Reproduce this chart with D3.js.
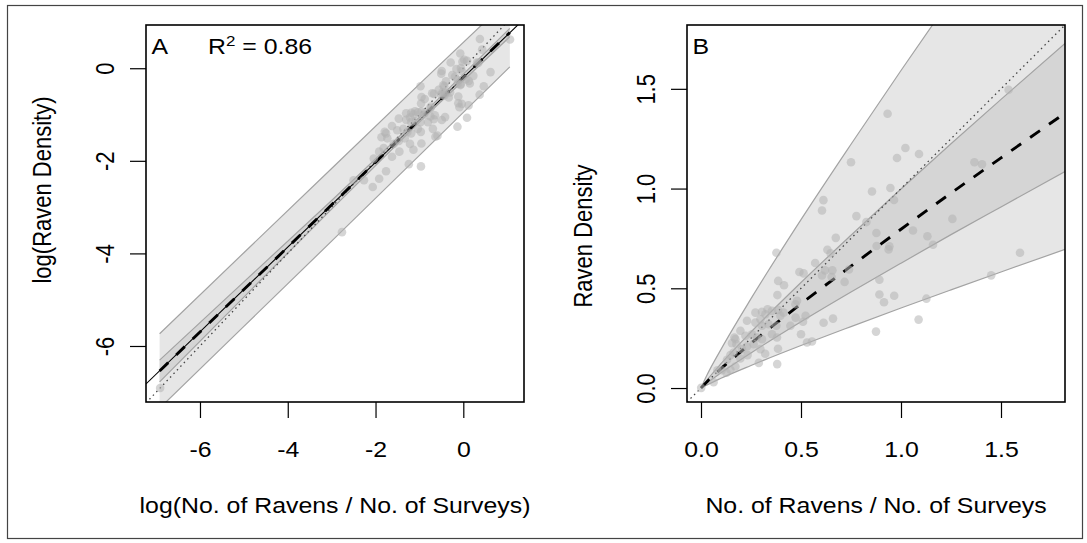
<!DOCTYPE html>
<html><head><meta charset="utf-8">
<script src="https://cdn.jsdelivr.net/npm/d3@7"></script>
<style>
body{margin:0;background:#fff}
text{font-family:"Liberation Sans",Arial,Helvetica,sans-serif;fill:#000}
</style>
</head><body>
<svg id="c" width="1087" height="543"></svg>
<script>
// ---------------- data ----------------
// raw observations: ravens per survey (x) and raven density (y)
const ravensPerSurvey = [
 0.933,1.538,1.022,0.98,1.09,0.75,1.367,1.405,0.855,0.947,
 0.965,0.612,0.605,0.777,0.827,1.257,0.877,1.06,0.674,1.132,
 0.878,0.942,0.938,1.16,0.632,0.648,0.377,1.595,0.571,0.492,
 0.513,0.62,0.657,0.605,0.653,0.74,0.718,0.892,0.386,0.415,
 1.451,0.382,0.892,0.966,0.915,1.127,0.472,0.48,0.385,0.523,
 0.473,0.51,0.613,0.66,1.088,0.875,0.5,0.53,0.555,0.385,
 0.321,0.289,0.381,0.127,0.063,0.001,0.272,0.305,0.322,0.355,
 0.413,0.197,0.305,0.338,0.377,0.447,0.172,0.177,0.222,0.255,
 0.28,0.305,0.355,0.38,0.205,0.23,0.263,0.297,0.147,0.163,
 0.13,0.197,0.233,0.082,0.104,0.147,0.172,1.46,2.9,1.86,
 0.333,0.297,0.272,0.397,0.23,0.155,0.167
];
const ravenDensity = [
 1.375,1.495,1.203,1.153,1.173,1.132,1.132,1.122,0.985,1.003,
 0.943,0.942,0.89,0.862,0.832,0.848,0.777,0.79,0.753,0.761,
 0.712,0.71,0.695,0.718,0.693,0.676,0.678,0.678,0.627,0.582,
 0.575,0.59,0.59,0.564,0.557,0.594,0.532,0.543,0.537,0.515,
 0.565,0.466,0.469,0.463,0.43,0.448,0.42,0.437,0.392,0.362,
 0.353,0.332,0.327,0.348,0.343,0.283,0.27,0.228,0.233,0.197,
 0.172,0.126,0.12,0.077,0.029,0.001,0.378,0.382,0.37,0.387,
 0.378,0.287,0.312,0.32,0.312,0.312,0.245,0.22,0.262,0.27,
 0.253,0.245,0.27,0.253,0.195,0.208,0.22,0.195,0.165,0.178,
 0.142,0.148,0.165,0.089,0.089,0.092,0.108,1.88,1.86,0.92,
 0.395,0.345,0.328,0.362,0.337,0.225,0.253
];

// Panel A (log scale): fitted line, confidence band, prediction band
const bandAx    = [-6.92, -5.0, -3.0, -0.9, 1.06];
const fitA      = [-6.54, -4.78, -2.95, -1.02, 0.77];
const ciLowA    = [-6.775, -4.944, -3.044, -1.07, 0.68];
const ciHighA   = [-6.305, -4.616, -2.856, -0.97, 0.86];
const piLowA    = [-7.345, -5.575, -3.735, -1.79, 0.03];
const piHighA   = [-5.735, -3.985, -2.165, -0.25, 1.51];
const ablineAx  = [-7.23, 1.38];
const ablineAy  = [-6.82, 1.06];

// Panel B (raw scale): back-transformed fit and bands
const bandBx    = [0, 0.03, 0.1, 0.25, 0.5, 0.75, 1.0, 1.25, 1.5, 1.82];
const fitB      = [0, 0.032, 0.097, 0.224, 0.422, 0.611, 0.796, 0.977, 1.154, 1.378];
const ciLowB    = [0, 0.025, 0.076, 0.176, 0.332, 0.481, 0.626, 0.769, 0.908, 1.085];
const ciHighB   = [0, 0.040, 0.122, 0.281, 0.529, 0.766, 0.998, 1.225, 1.447, 1.728];
const piLowB    = [0, 0.016, 0.049, 0.113, 0.213, 0.308, 0.401, 0.492, 0.582, 0.695];
const piHighB   = [0, 0.065, 0.194, 0.448, 0.844, 1.222, 1.592, 1.954, 2.308, 2.756];

// axes
const xTicksA = [-6, -4, -2, 0];
const yTicksA = [-6, -4, -2, 0];
const xTicksB = [0.0, 0.5, 1.0, 1.5];
const yTicksB = [0.0, 0.5, 1.0, 1.5];
const xLimA = [-7.23, 1.383];
const yLimA = [-7.21, 0.934];
const xLimB = [-0.07, 1.82];
const yLimB = [-0.07, 1.82];

const titleXA = "log(No. of Ravens / No. of Surveys)";
const titleYA = "log(Raven Density)";
const titleXB = "No. of Ravens / No. of Surveys";
const titleYB = "Raven Density";
const r2Label = "0.86";

// ---------------- drawing ----------------
const svg = d3.select("#c");
const SX = 1.13, FS = 22;
const pA = {l:146, r:524, t:25, b:402};
const pB = {l:687, r:1065, t:25, b:402};

// outer frame
svg.append("rect").attr("x",7.5).attr("y",5.5).attr("width",1075).attr("height",533)
  .attr("fill","none").attr("stroke","#444").attr("stroke-width",1.2);

const defs = svg.append("defs");
function clip(id,p){
  defs.append("clipPath").attr("id",id).append("rect")
    .attr("x",p.l).attr("y",p.t).attr("width",p.r-p.l).attr("height",p.b-p.t);
}
clip("clipA",pA); clip("clipB",pB);

const OUTER="#e6e6e6", INNER="#d5d5d5", EDGE="#a3a3a3";

function panel(p, clipId, x, y, o){
  const g = svg.append("g").attr("clip-path",`url(#${clipId})`);
  const curve = o.curve;
  const idx = d3.range(o.bx.length);
  const area = (lo,hi)=>d3.area().curve(curve).x(i=>x(o.bx[i])).y0(i=>y(lo[i])).y1(i=>y(hi[i]))(idx);
  const line = (arr)=>d3.line().curve(curve).x(i=>x(o.bx[i])).y(i=>y(arr[i]))(idx);
  g.append("path").attr("d",area(o.piLow,o.piHigh)).attr("fill",OUTER);
  g.append("path").attr("d",area(o.ciLow,o.ciHigh)).attr("fill",INNER);
  [o.piLow,o.piHigh,o.ciLow,o.ciHigh].forEach(a=>{
    g.append("path").attr("d",line(a)).attr("fill","none").attr("stroke",EDGE).attr("stroke-width",1.2);
  });
  // 1:1 dotted line
  g.append("line").attr("x1",x(x.domain()[0])).attr("y1",y(x.domain()[0]))
    .attr("x2",x(x.domain()[1])).attr("y2",y(x.domain()[1]))
    .attr("stroke","#444").attr("stroke-width",1.3).attr("stroke-dasharray","1.5,3.5");
  if(o.abX){
    g.append("line").attr("x1",x(o.abX[0])).attr("y1",y(o.abY[0]))
      .attr("x2",x(o.abX[1])).attr("y2",y(o.abY[1]))
      .attr("stroke","#000").attr("stroke-width",1.1);
  }
  g.append("path").attr("d",line(o.fit)).attr("fill","none").attr("stroke","#000")
    .attr("stroke-width",2.9).attr("stroke-dasharray","12,11");
  // points
  g.selectAll("circle.pt").data(d3.range(ravensPerSurvey.length)).join("circle")
    .attr("class","pt")
    .attr("cx",i=>x(o.tx(ravensPerSurvey[i])))
    .attr("cy",i=>y(o.tx(ravenDensity[i])))
    .attr("r",4.3).attr("fill","rgb(178,178,178)").attr("fill-opacity",0.55);

  // axes
  const ax = svg.append("g").attr("transform",`translate(0,${p.b})`)
    .call(d3.axisBottom(x).tickValues(o.xt).tickSize(16).tickFormat(o.fmt));
  const ay = svg.append("g").attr("transform",`translate(${p.l},0)`)
    .call(d3.axisLeft(y).tickValues(o.yt).tickSize(16).tickFormat(o.fmt));
  [ax,ay].forEach(a=>{
    a.select(".domain").remove();
    a.selectAll(".tick line").attr("stroke","#000").attr("stroke-width",1.2);
    a.selectAll(".tick text").attr("font-size",FS).attr("x",null).attr("y",null).attr("dy",null)
      .attr("fill","#000").style("font-family",'"Liberation Sans",Arial,sans-serif');
  });
  ax.selectAll(".tick text").attr("text-anchor","middle")
    .attr("transform",`translate(0,55) scale(${SX},1)`);
  ay.selectAll(".tick text").attr("text-anchor","middle")
    .attr("transform",`translate(${o.ytickX - p.l},0) scale(${SX},1) rotate(-90)`);

  // box
  svg.append("rect").attr("x",p.l).attr("y",p.t).attr("width",p.r-p.l).attr("height",p.b-p.t)
    .attr("fill","none").attr("stroke","#000").attr("stroke-width",1.6);

  // titles
  svg.append("text").attr("font-size",FS).attr("text-anchor","middle")
    .attr("transform",`translate(${(p.l+p.r)/2},513) scale(${SX},1)`).text(o.tx_title);
  svg.append("text").attr("font-size",FS).attr("text-anchor","middle")
    .attr("transform",`translate(${o.ytitleX},${o.ytitleY}) scale(${SX},1) rotate(-90)`).text(o.ty_title);
  svg.append("text").attr("font-size",FS)
    .attr("transform",`translate(${p.l+5.5},54) scale(${SX},1)`).text(o.letter);
}

const xA = d3.scaleLinear().domain(xLimA).range([pA.l,pA.r]);
const yA = d3.scaleLinear().domain(yLimA).range([pA.b,pA.t]);
const xB = d3.scaleLinear().domain(xLimB).range([pB.l,pB.r]);
const yB = d3.scaleLinear().domain(yLimB).range([pB.b,pB.t]);

panel(pA,"clipA",xA,yA,{
  curve:d3.curveLinear, bx:bandAx, fit:fitA, ciLow:ciLowA, ciHigh:ciHighA, piLow:piLowA, piHigh:piHighA,
  abX:ablineAx, abY:ablineAy, tx:Math.log, xt:xTicksA, yt:yTicksA, fmt:d=>String(d),
  ytickX:114, tx_title:titleXA, ty_title:titleYA, ytitleX:51, ytitleY:190, letter:"A"
});
panel(pB,"clipB",xB,yB,{
  curve:d3.curveMonotoneX, bx:bandBx, fit:fitB, ciLow:ciLowB, ciHigh:ciHighB, piLow:piLowB, piHigh:piHighB,
  tx:d=>d, xt:xTicksB, yt:yTicksB, fmt:d3.format(".1f"),
  ytickX:655, tx_title:titleXB, ty_title:titleYB, ytitleX:592, ytitleY:236, letter:"B"
});

// R^2 annotation
const r2 = svg.append("text").attr("font-size",FS)
  .attr("transform",`translate(208,54) scale(${SX},1)`);
r2.append("tspan").text("R");
r2.append("tspan").attr("font-size",15).attr("dy",-8).text("2");
r2.append("tspan").attr("dy",8).text(" = " + r2Label);
</script>
</body></html>
